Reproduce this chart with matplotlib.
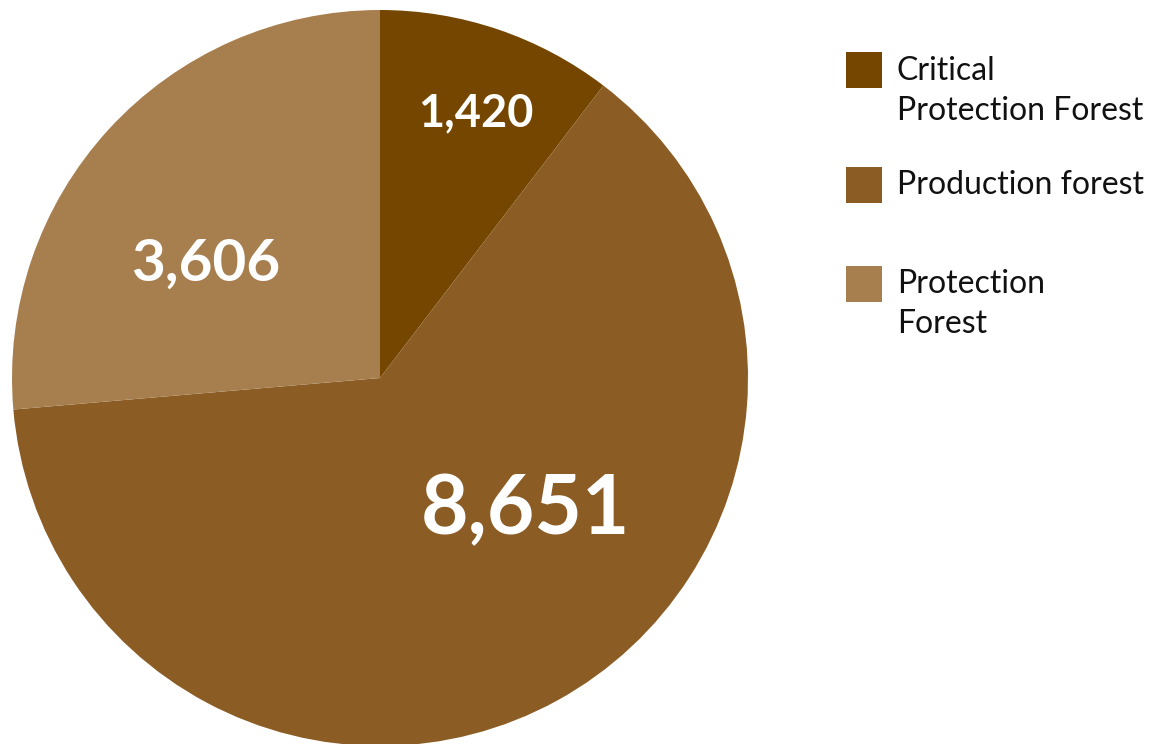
import matplotlib
matplotlib.use("Agg")
import matplotlib.pyplot as plt
from matplotlib.patches import Rectangle
import numpy as np

plt.rcParams['font.family'] = ['Lato', 'DejaVu Sans']

categories = ['Critical\nProtection Forest', 'Production forest', 'Protection\nForest']
values = [1420, 8651, 3606]
colors = ['#744600', '#8B5C24', '#A77F4F']

# where each value label sits (pie data coords) and its font size
label_xy = [(0.26, 0.72), (0.395, -0.36), (-0.475, 0.31)]
label_size = [32.5, 59, 42]

W, H = 1164, 744
fig = plt.figure(figsize=(W / 100, H / 100), dpi=100)

# pie centre (380, 378) px from top-left, radius 368 px
cx, cy, r = 380, 378, 368
ax = fig.add_axes([(cx - r) / W, (H - cy - r) / H, 2 * r / W, 2 * r / H])
ax.pie(values, colors=colors, startangle=90, counterclock=False, radius=1,
       wedgeprops=dict(linewidth=0))
ax.set_xlim(-1, 1)
ax.set_ylim(-1, 1)
ax.set_aspect('equal')
ax.axis('off')

for v, (x, y), s in zip(values, label_xy, label_size):
    ax.text(x, y, f'{v:,}', color='white', fontsize=s, fontweight='bold',
            ha='center', va='center')

# legend drawn by hand: square top and baseline of the last text line (px)
row_top = [52, 167, 266]
row_base = [120, 194, 333]
for lab, col, top, base in zip(categories, colors, row_top, row_base):
    fig.add_artist(Rectangle((846 / W, 1 - (top + 36) / H), 36 / W, 36 / H,
                             transform=fig.transFigure, color=col, lw=0))
    fig.text(897 / W, 1 - base / H, lab, fontsize=23, color='#111111',
             ha='left', va='baseline', linespacing=1.42,
             transform=fig.transFigure)

fig.savefig('out.png', dpi=100, facecolor='white')
